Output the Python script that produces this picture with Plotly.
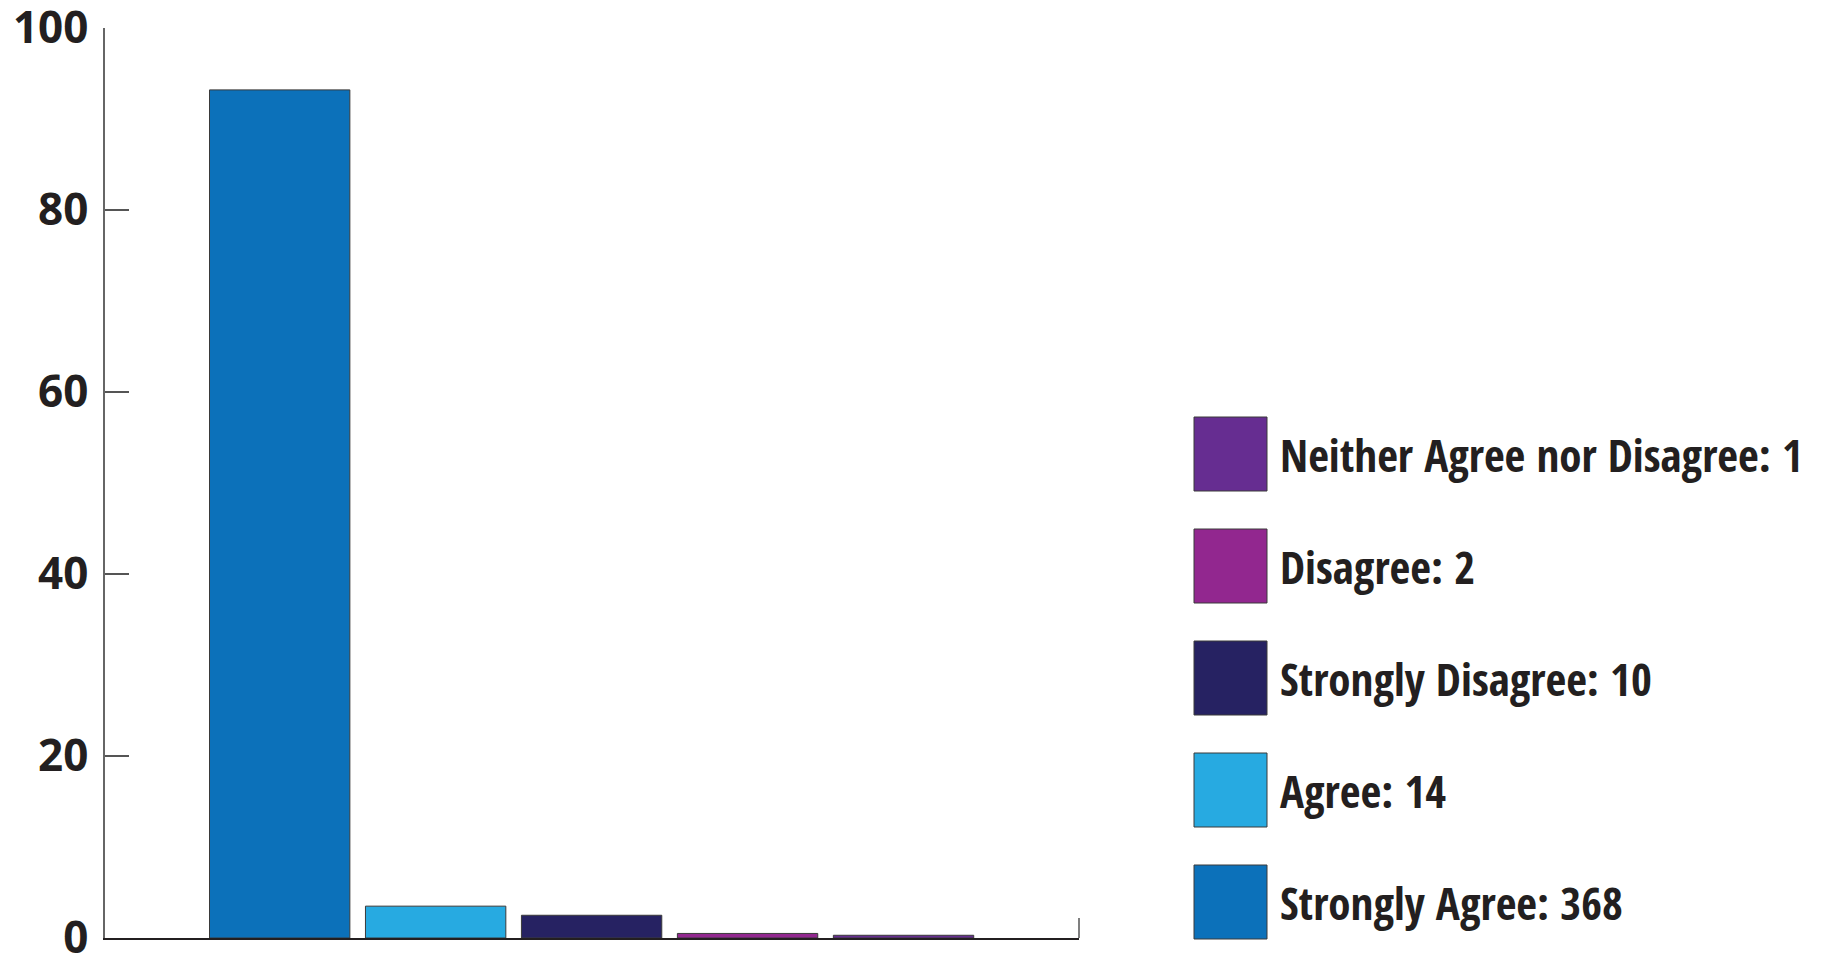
import plotly.graph_objects as go

# Data
categories = ["Strongly Agree", "Agree", "Strongly Disagree", "Disagree", "Neither Agree nor Disagree"]
counts = [368, 14, 10, 2, 1]
percents = [93.2, 3.5, 2.5, 0.5, 0.3]
colors = ["#0C71BA", "#27AAE1", "#262262", "#92278F", "#662D91"]
y_ticks = [0, 20, 40, 60, 80, 100]

W, H = 1832, 955
L, R = 105, 1079   # plot area x pixels
T, B = 28, 938     # plot area y pixels

LEG_FONT = "'Open Sans Condensed', 'Liberation Sans Narrow', 'Open Sans', sans-serif"
TICK_FONT = "'Open Sans', sans-serif"

fig = go.Figure()
fig.add_trace(go.Bar(
    x=list(range(1, len(categories) + 1)),
    y=percents,
    width=0.9,
    marker=dict(color=colors, line=dict(color="#3a3a3a", width=1)),
    hovertext=categories,
    showlegend=False,
))

def px_x(px):
    return (px - L) / (R - L)

def px_y(py):
    return (B - py) / (B - T)

shapes = []
annotations = []
# right end tick of x-axis
shapes.append(dict(type="line", xref="paper", yref="paper",
                   x0=1, x1=1, y0=0, y1=px_y(918),
                   line=dict(color="#555555", width=1.5)))

# custom legend (reverse order: smallest first)
order = list(range(len(categories)))[::-1]
for row, i in enumerate(order):
    top = 417 + row * 112
    shapes.append(dict(type="rect", xref="paper", yref="paper",
                       x0=px_x(1194), x1=px_x(1267),
                       y0=px_y(top + 74), y1=px_y(top),
                       fillcolor=colors[i], line=dict(color="#3a3a3a", width=1)))
    annotations.append(dict(xref="paper", yref="paper",
                            x=px_x(1278), y=px_y(top + 37),
                            xanchor="left", yanchor="middle", showarrow=False,
                            text=f"{categories[i]}: {counts[i]}",
                            font=dict(family=LEG_FONT, size=45, weight="bold",
                                      color="#231F20")))

fig.update_layout(
    width=W, height=H,
    margin=dict(l=L, r=W - R, t=T, b=H - B, pad=0, autoexpand=False),
    paper_bgcolor="white", plot_bgcolor="white",
    bargap=0.1,
    shapes=shapes,
    annotations=annotations,
    xaxis=dict(range=[-0.12, 6.125], showticklabels=False, ticks="",
               showgrid=False, zeroline=False, showline=True, automargin=False,
               linecolor="#231F20", linewidth=1.5, fixedrange=True),
    yaxis=dict(range=[0, 100], tickvals=y_ticks, ticks="inside", ticklen=24,
               tickcolor="#555555", tickwidth=1.5, automargin=False,
               showgrid=False, zeroline=False, showline=True,
               linecolor="#666666", linewidth=1.5, ticklabelstandoff=6,
               ticklabeloverflow="allow",
               tickfont=dict(family=TICK_FONT, size=44, weight="bold",
                             color="#231F20"),
               fixedrange=True),
    font=dict(family=TICK_FONT, color="#231F20"),
)

fig.write_html("out.html")
